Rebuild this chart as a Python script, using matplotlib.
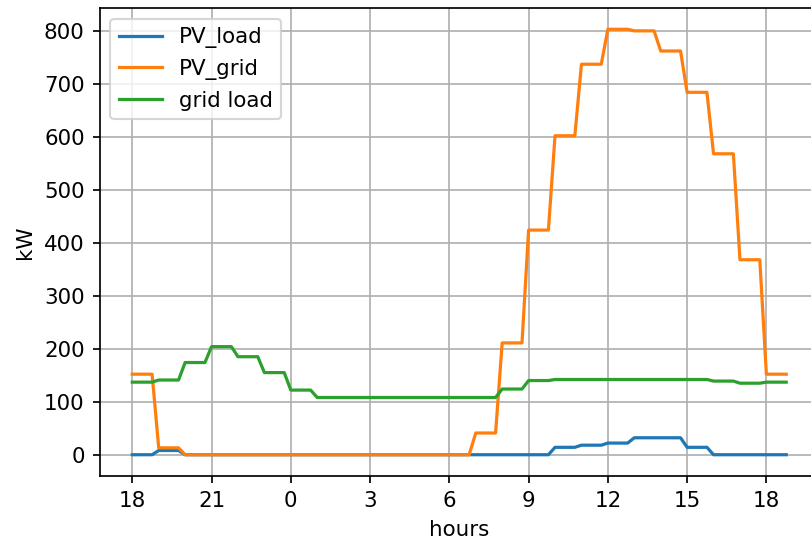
import numpy as np
import matplotlib
matplotlib.use("Agg")
import matplotlib.pyplot as plt

# Hourly readings from 18:00 one day to 18:00 the next (kW)
hours = list(range(18, 43))
pv_load = [0, 8, 0, 0, 0, 0, 0, 0, 0, 0, 0, 0, 0, 0, 0, 0,
           14, 18, 22, 32, 32, 14, 0, 0, 0]
pv_grid = [152, 13, 0, 0, 0, 0, 0, 0, 0, 0, 0, 0, 0, 41, 211, 424,
           602, 737, 803, 800, 762, 684, 568, 368, 152]
grid_load = [137, 141, 174, 204, 185, 155, 122, 108, 108, 108, 108, 108, 108, 108,
             124, 140, 142, 142, 142, 142, 142, 142, 139, 135, 137]

# Each hourly value is held for four quarter-hour samples
samples_per_hour = 4
t = hours[0] + np.arange(len(hours) * samples_per_hour) / samples_per_hour

tick_hours = list(range(18, 43, 3))
tick_labels = [str(h % 24) for h in tick_hours]

dpi = 154
fig = plt.figure(figsize=(811 / dpi, 545 / dpi), dpi=dpi)
ax = fig.add_axes([99.6 / 811, 69 / 545, 719.3 / 811, 468 / 545])

ax.plot(t, np.repeat(pv_load, samples_per_hour), label="PV_load")
ax.plot(t, np.repeat(pv_grid, samples_per_hour), label="PV_grid")
ax.plot(t, np.repeat(grid_load, samples_per_hour), label="grid load")

ax.set_xticks(tick_hours)
ax.set_xticklabels(tick_labels)
ax.set_xlabel("hours")
ax.set_ylabel("kW")
ax.grid(True)
ax.legend(loc="upper left")

fig.savefig("out.png", dpi=dpi)
